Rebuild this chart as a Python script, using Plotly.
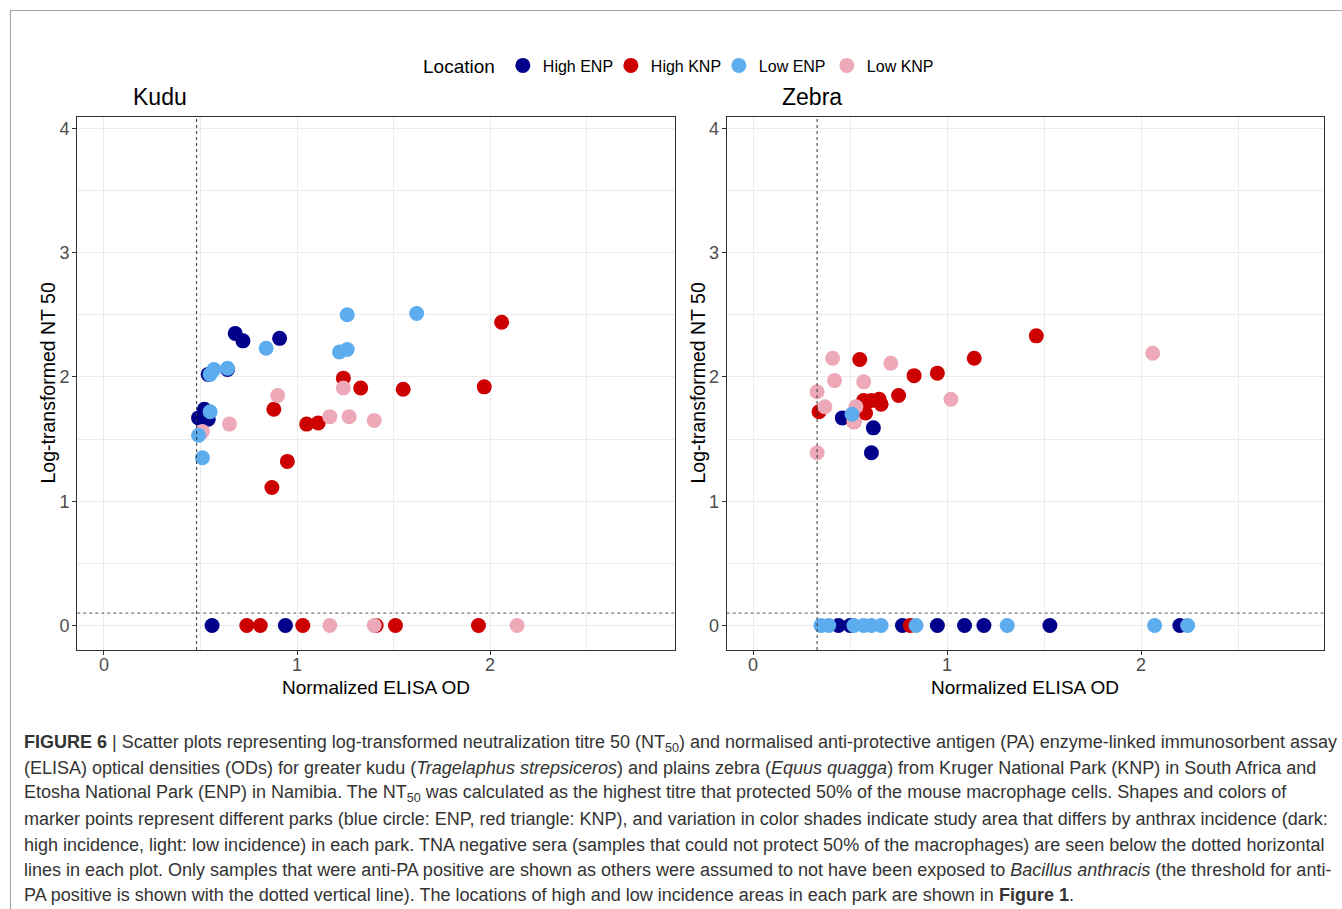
import plotly.graph_objects as go
from plotly.subplots import make_subplots

# ---------------- data ----------------
groups = ["High ENP", "High KNP", "Low ENP", "Low KNP"]
group_colors = ["#00008B", "#CD0000", "#5CACEE", "#EEA9B8"]

kudu_high_enp_x = [0.68, 0.72, 0.91, 0.49, 0.52, 0.54, 0.54, 0.64, 0.56, 0.94]
kudu_high_enp_y = [2.35, 2.29, 2.31, 1.67, 1.74, 1.66, 2.02, 2.06, 0, 0]
kudu_high_knp_x = [1.24, 1.33, 1.55, 1.97, 2.06, 0.88, 1.05, 1.11, 0.95, 0.87, 0.74, 0.81, 1.03, 1.41, 1.51, 1.94]
kudu_high_knp_y = [1.99, 1.91, 1.90, 1.92, 2.44, 1.74, 1.62, 1.63, 1.32, 1.11, 0, 0, 0, 0, 0, 0]
kudu_low_enp_x = [1.26, 1.62, 0.84, 1.22, 1.26, 0.64, 0.57, 0.55, 0.55, 0.49, 0.51]
kudu_low_enp_y = [2.50, 2.51, 2.23, 2.20, 2.22, 2.07, 2.06, 2.02, 1.72, 1.53, 1.35]
kudu_low_knp_x = [0.90, 0.65, 0.51, 1.17, 1.27, 1.40, 1.24, 1.17, 1.40, 2.14]
kudu_low_knp_y = [1.85, 1.62, 1.56, 1.68, 1.68, 1.65, 1.91, 0, 0, 0]

zebra_high_enp_x = [0.46, 0.62, 0.61, 0.44, 0.50, 0.77, 0.95, 1.09, 1.19, 1.53, 2.20]
zebra_high_enp_y = [1.67, 1.59, 1.39, 0, 0, 0, 0, 0, 0, 0, 0]
zebra_high_knp_x = [1.46, 1.14, 0.95, 0.83, 0.55, 0.75, 0.65, 0.61, 0.57, 0.66, 0.58, 0.34, 0.52, 0.81]
zebra_high_knp_y = [2.33, 2.15, 2.03, 2.01, 2.14, 1.85, 1.82, 1.81, 1.81, 1.78, 1.71, 1.72, 1.64, 0]
zebra_low_enp_x = [0.51, 0.35, 0.39, 0.52, 0.57, 0.61, 0.66, 0.84, 1.31, 2.07, 2.24]
zebra_low_enp_y = [1.70, 0, 0, 0, 0, 0, 0, 0, 0, 0, 0]
zebra_low_knp_x = [0.41, 0.71, 0.42, 0.57, 0.33, 1.02, 0.37, 0.53, 0.52, 0.33, 2.06]
zebra_low_knp_y = [2.15, 2.11, 1.97, 1.96, 1.88, 1.82, 1.76, 1.76, 1.64, 1.39, 2.19]

kudu_elisa_threshold = 0.48
zebra_elisa_threshold = 0.33
nt50_threshold = 0.1

panel_titles = ["Kudu", "Zebra"]
x_title = "Normalized ELISA OD"
y_title = "Log-transformed NT 50"
y_ticks = [0, 1, 2, 3, 4]
x_ticks = [0, 1, 2]

caption_lines = [
    "<b>FIGURE 6</b> | Scatter plots representing log-transformed neutralization titre 50 (NT<sub>50</sub>) and normalised anti-protective antigen (PA) enzyme-linked immunosorbent assay",
    "(ELISA) optical densities (ODs) for greater kudu (<i>Tragelaphus strepsiceros</i>) and plains zebra (<i>Equus quagga</i>) from Kruger National Park (KNP) in South Africa and",
    "Etosha National Park (ENP) in Namibia. The NT<sub>50</sub> was calculated as the highest titre that protected 50% of the mouse macrophage cells. Shapes and colors of",
    "marker points represent different parks (blue circle: ENP, red triangle: KNP), and variation in color shades indicate study area that differs by anthrax incidence (dark:",
    "high incidence, light: low incidence) in each park. TNA negative sera (samples that could not protect 50% of the macrophages) are seen below the dotted horizontal",
    "lines in each plot. Only samples that were anti-PA positive are shown as others were assumed to not have been exposed to <i>Bacillus anthracis</i> (the threshold for anti-",
    "PA positive is shown with the dotted vertical line). The locations of high and low incidence areas in each park are shown in <b>Figure 1</b>.",
]

# ---------------- layout helpers ----------------
W, H = 1342, 909
FONT = "Liberation Sans, Arial, sans-serif"


def px(x):
    return x / W


def py(y):
    return 1 - y / H


fig = make_subplots(rows=1, cols=2)

# outer frame of the figure panel
fig.add_shape(type="rect", xref="paper", yref="paper",
              x0=px(10.5), x1=1.1, y0=-0.1, y1=py(10.5),
              line=dict(color="#A8A8A8", width=1.2), layer="below")

kudu = {
    "High ENP": (kudu_high_enp_x, kudu_high_enp_y),
    "High KNP": (kudu_high_knp_x, kudu_high_knp_y),
    "Low ENP": (kudu_low_enp_x, kudu_low_enp_y),
    "Low KNP": (kudu_low_knp_x, kudu_low_knp_y),
}
zebra = {
    "High ENP": (zebra_high_enp_x, zebra_high_enp_y),
    "High KNP": (zebra_high_knp_x, zebra_high_knp_y),
    "Low ENP": (zebra_low_enp_x, zebra_low_enp_y),
    "Low KNP": (zebra_low_knp_x, zebra_low_knp_y),
}
draw_order = ["High ENP", "High KNP", "Low KNP", "Low ENP"]
color_of = dict(zip(groups, group_colors))

for col, data in [(1, kudu), (2, zebra)]:
    for g in draw_order:
        xs, ys = data[g]
        fig.add_trace(
            go.Scatter(
                x=xs, y=ys, mode="markers", name=g,
                legendgroup=g, showlegend=(col == 1),
                legendrank=groups.index(g) + 1,
                marker=dict(size=15, color=color_of[g], line=dict(width=0)),
                hoverinfo="skip",
            ),
            row=1, col=col,
        )

for col, thr in [(1, kudu_elisa_threshold), (2, zebra_elisa_threshold)]:
    fig.add_vline(x=thr, line=dict(color="#333333", width=1, dash="3px,3px"), row=1, col=col)
    fig.add_hline(y=nt50_threshold, line=dict(color="#555555", width=1, dash="3px,3px"), row=1, col=col)

axis_common = dict(
    showline=True, linecolor="#333333", linewidth=1.2, mirror=True,
    showgrid=True, gridcolor="#EBEBEB", gridwidth=1.1, zeroline=False,
    ticks="outside", ticklen=4, tickcolor="#333333", tickwidth=1,
    tickfont=dict(family=FONT, size=18, color="#4D4D4D"),
)

fig.update_xaxes(**axis_common, tickvals=x_ticks, ticklabelstandoff=-6,
                 minor=dict(dtick=0.5, tick0=0, showgrid=True, gridcolor="#EBEBEB", gridwidth=0.6))
fig.update_yaxes(**axis_common, tickvals=y_ticks, range=[-0.197, 4.093], ticklabelstandoff=-1,
                 minor=dict(dtick=0.5, tick0=0, showgrid=True, gridcolor="#EBEBEB", gridwidth=0.6))

fig.update_xaxes(range=[-0.138, 2.958], domain=[px(77.3), px(675)], row=1, col=1)
fig.update_xaxes(range=[-0.136, 2.943], domain=[px(726.7), px(1324)], row=1, col=2)
fig.update_yaxes(domain=[py(650), py(116.7)])

annotations = []
for xpos, t in [(131, panel_titles[0]), (780, panel_titles[1])]:
    annotations.append(dict(x=px(xpos), y=py(97), xref="paper", yref="paper", text=t,
                            showarrow=False, xanchor="left", yanchor="middle",
                            font=dict(family=FONT, size=23, color="black")))
for xpos in [376, 1025]:
    annotations.append(dict(x=px(xpos), y=py(687), xref="paper", yref="paper", text=x_title,
                            showarrow=False, xanchor="center", yanchor="middle",
                            font=dict(family=FONT, size=19, color="black")))
for xpos in [47, 697]:
    annotations.append(dict(x=px(xpos), y=py(383.5), xref="paper", yref="paper", text=y_title,
                            showarrow=False, xanchor="center", yanchor="middle", textangle=-90,
                            font=dict(family=FONT, size=19.5, color="black")))

cap_y = [743, 768, 793.5, 819, 844.5, 870, 895]
for yy, line in zip(cap_y, caption_lines):
    annotations.append(dict(x=px(22), y=py(yy), xref="paper", yref="paper", text=line,
                            showarrow=False, xanchor="left", yanchor="middle",
                            font=dict(family=FONT, size=18, color="#333333")))

fig.update_layout(
    width=W, height=H,
    margin=dict(l=0, r=0, t=0, b=0),
    paper_bgcolor="white", plot_bgcolor="white",
    font=dict(family=FONT, color="black"),
    annotations=annotations,
    legend=dict(
        orientation="h", x=px(421), y=py(66), xanchor="left", yanchor="middle",
        title=dict(text="Location", side="left", font=dict(family=FONT, size=19, color="black")),
        font=dict(family=FONT, size=16, color="black"),
        itemwidth=30, tracegroupgap=0, bgcolor="rgba(0,0,0,0)",
        entrywidth=63, entrywidthmode="pixels",
    ),
)

fig.write_html(
    "out.html",
    config={"displayModeBar": False},
    post_script="document.body.style.margin='0';document.body.style.overflow='hidden';",
)
